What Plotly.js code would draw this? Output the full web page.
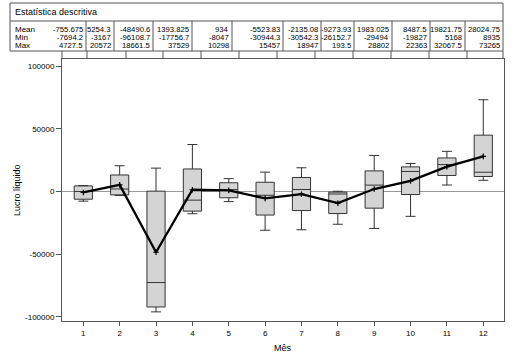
<!DOCTYPE html>
<html>
<head>
<meta charset="utf-8">
<script src="https://cdn.plot.ly/plotly-3.0.1.min.js"></script>
<style>html,body{margin:0;padding:0;background:#fff;}#chart{width:513px;height:359px;}</style>
</head>
<body>
<div id="chart"></div>
<script>
// ---- data ----
const months = [1, 2, 3, 4, 5, 6, 7, 8, 9, 10, 11, 12];
const tickLabels = ['1','2','3','4','5','6','7','8','9','10','11','12'];
const meanVals = [-755.675, 5254.3, -48490.6, 1393.825, 934, -5523.83, -2135.08, -9273.93, 1983.025, 8487.5, 19821.75, 28024.75];
const minVals = [-7694.2, -3167, -96108.7, -17756.7, -8047, -30944.3, -30542.3, -26152.7, -29494, -19827, 5168, 8935];
const maxVals = [4727.5, 20572, 18661.5, 37529, 10298, 15457, 18947, 193.5, 28802, 22363, 32067.5, 73265];
const q1Vals = [-6150, -2700, -92200, -15700, -5000, -18800, -15200, -17600, -13300, -2400, 12800, 12000];
const medianVals = [0, 2000, -72700, -6900, 1500, -3000, 1600, -2000, 5100, 16000, 21500, 15400];
const q3Vals = [4470, 13200, 300, 18000, 7000, 7400, 11200, -500, 16450, 19650, 26800, 45000];
const rowLabels = ['Mean', 'Min', 'Max'];
const tableTitle = 'Estatística descritiva';
const xTitle = 'Mês';
const yTitle = 'Lucro líquido';

// ---- layout helpers (pixel -> paper) ----
const W = 513, H = 359;
const mL = 62, mR = 9, mT = 59, mB = 38;
const pw = W - mL - mR, ph = H - mT - mB;
const px = x => (x - mL) / pw;
const py = y => (H - mB - y) / ph;

const FONT = 'Liberation Sans, Arial, sans-serif';
const border = '#555';

const shapes = [];
const annotations = [];
// table frame
const tL = 10, tR = 503, tT = 3, tHd = 21, tB = 51;
shapes.push({type:'rect', xref:'paper', yref:'paper', x0:px(tL), x1:px(tR), y0:py(tB), y1:py(tT), line:{color:border, width:1}});
shapes.push({type:'line', xref:'paper', yref:'paper', x0:px(tL), x1:px(tR), y0:py(tHd), y1:py(tHd), line:{color:border, width:1}});
const colEdges = [86, 114, 153, 192, 232, 283, 321, 354, 392, 430, 465, 503];
colEdges.slice(0, -1).forEach(x => {
  shapes.push({type:'line', xref:'paper', yref:'paper', x0:px(x), x1:px(x), y0:py(tB), y1:py(tHd), line:{color:border, width:1}});
});
// short connector marks between table and plot frame
const gapMarks = [62, 87, 126, 163, 201, 239, 277, 315, 353, 391, 429, 467, 503];
gapMarks.forEach(x => {
  shapes.push({type:'line', xref:'paper', yref:'paper', x0:px(x), x1:px(x), y0:py(59), y1:py(tB), line:{color:border, width:1}});
});
annotations.push({xref:'paper', yref:'paper', x:px(13), y:py(12.5), xanchor:'left', yanchor:'middle', showarrow:false, text:tableTitle, font:{family:FONT, size:9, color:'#000'}});
const rowY = [29.5, 38, 46];
const rows = [meanVals, minVals, maxVals];
rows.forEach((vals, r) => {
  annotations.push({xref:'paper', yref:'paper', x:px(13), y:py(rowY[r]), xanchor:'left', yanchor:'middle', showarrow:false, text:rowLabels[r], font:{family:FONT, size:8, color:'#000'}});
  vals.forEach((v, i) => {
    annotations.push({xref:'paper', yref:'paper', x:px(colEdges[i] - 1.5), y:py(rowY[r]), xanchor:'right', yanchor:'middle', showarrow:false, text:String(v), font:{family:FONT, size:7.7, color:'#000'}});
  });
});
// axis titles
annotations.push({xref:'paper', yref:'paper', x:px(17), y:py(190), xanchor:'center', yanchor:'middle', textangle:-90, showarrow:false, text:yTitle, font:{family:FONT, size:9, color:'#000'}});
annotations.push({xref:'paper', yref:'paper', x:px(283), y:py(348), xanchor:'center', yanchor:'middle', showarrow:false, text:xTitle, font:{family:FONT, size:9, color:'#000'}});

const traces = [
  {
    type: 'box',
    x: months,
    q1: q1Vals,
    median: medianVals,
    q3: q3Vals,
    lowerfence: minVals,
    upperfence: maxVals,
    boxpoints: false,
    width: 0.5,
    whiskerwidth: 0.55,
    fillcolor: '#d4d4d4',
    line: {color: '#333', width: 1},
    showlegend: false,
    hoverinfo: 'skip'
  },
  {
    type: 'scatter',
    mode: 'lines+markers',
    x: months,
    y: meanVals,
    line: {color: '#000', width: 2.3},
    marker: {symbol: 'cross-thin', size: 4, line: {color: '#000', width: 1.2}, color: '#000'},
    showlegend: false,
    hoverinfo: 'skip'
  }
];

const layout = {
  width: W, height: H,
  margin: {l: mL, r: mR, t: mT, b: mB, pad: 0},
  paper_bgcolor: '#fff', plot_bgcolor: '#fff',
  font: {family: FONT, size: 8, color: '#000'},
  showlegend: false,
  xaxis: {
    range: [0.414, 12.57],
    tickmode: 'array', tickvals: months, ticktext: tickLabels,
    ticks: 'outside', ticklen: 4, tickcolor: border, tickwidth: 1,
    showline: true, linecolor: border, linewidth: 1, mirror: true,
    showgrid: false, zeroline: false,
    tickfont: {family: FONT, size: 8, color: '#000'}
  },
  yaxis: {
    range: [-103400, 105800],
    tickmode: 'array', tickvals: [-100000, -50000, 0, 50000, 100000],
    ticktext: ['-100000', '-50000', '0', '50000', '100000'],
    ticks: 'outside', ticklen: 5, tickcolor: border, tickwidth: 1,
    showline: true, linecolor: border, linewidth: 1, mirror: true,
    showgrid: false, zeroline: true, zerolinecolor: '#999', zerolinewidth: 1,
    tickfont: {family: FONT, size: 8, color: '#000'}
  },
  shapes: shapes,
  annotations: annotations
};

Plotly.newPlot('chart', traces, layout, {displayModeBar: false, staticPlot: true});
</script>
</body>
</html>
